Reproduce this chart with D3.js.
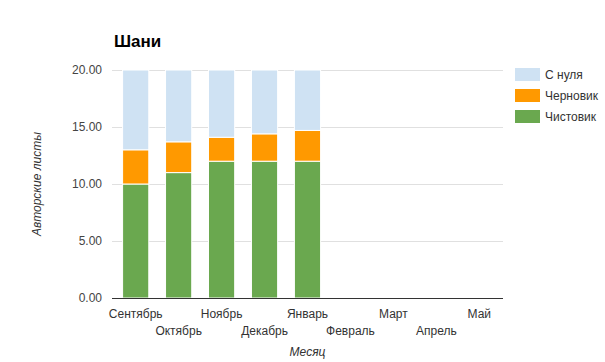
<!DOCTYPE html>
<html>
<head>
<meta charset="UTF-8">
<title>Шани</title>
<script src="https://cdn.jsdelivr.net/npm/d3@7"></script>
<style>
  body, html { margin:0; padding:0; background:#fff; }
  svg { font-family: "Liberation Sans", Arial, sans-serif; }
</style>
</head>
<body>
<div id="chart"></div>
<script>
var months = ['Сентябрь','Октябрь','Ноябрь','Декабрь','Январь','Февраль','Март','Апрель','Май'];
var series = ['Чистовик','Черновик','С нуля'];
var colors = ['#6aa84f','#ff9900','#cfe2f3'];
var clean = [10, 11, 12, 12, 12];
var draft = [3, 2.7, 2.1, 2.4, 2.7];
var scratch = [7, 6.3, 5.9, 5.6, 5.3];
var yTicks = [0, 5, 10, 15, 20];

var W = 605, H = 362;
var plotL = 112, plotR = 503, plotT = 70, plotB = 298;

var svg = d3.select('#chart').append('svg').attr('width', W).attr('height', H);

var x = d3.scaleBand().domain(months).range([plotL + 2, plotR - 2]).paddingInner(0.39).paddingOuter(0.2);
var y = d3.scaleLinear().domain([0, 20]).range([plotB, plotT]);

// rows for stacking
var rows = clean.map(function(v, i) {
  return { month: months[i], 'Чистовик': v, 'Черновик': draft[i], 'С нуля': scratch[i] };
});
var stack = d3.stack().keys(series)(rows);

// grid
svg.append('g').selectAll('line').data(yTicks.filter(function(t){ return t > 0; }))
  .enter().append('line')
  .attr('x1', plotL).attr('x2', plotR)
  .attr('y1', function(d){ return y(d) + 0.5; }).attr('y2', function(d){ return y(d) + 0.5; })
  .attr('stroke', '#e0e0e0').attr('stroke-width', 1);

// y labels
svg.append('g').selectAll('text').data(yTicks).enter().append('text')
  .attr('x', 102).attr('y', function(d){ return y(d) + 4; })
  .attr('text-anchor', 'end').attr('font-size', 12).attr('fill', '#444')
  .text(function(d){ return d3.format('.2f')(d); });

// bars
svg.append('g').selectAll('g').data(stack).enter().append('g')
  .attr('fill', function(d, i){ return colors[i]; })
  .selectAll('rect').data(function(d){ return d; }).enter().append('rect')
  .attr('x', function(d){ return x(d.data.month); })
  .attr('width', x.bandwidth())
  .attr('y', function(d){ return y(d[1]); })
  .attr('height', function(d){ return y(d[0]) - y(d[1]); })
  .attr('stroke', '#fff').attr('stroke-width', 1);

// baseline
svg.append('line').attr('x1', plotL).attr('x2', plotR)
  .attr('y1', plotB + 0.5).attr('y2', plotB + 0.5)
  .attr('stroke', '#333').attr('stroke-width', 1);

// x labels, staggered
svg.append('g').selectAll('text').data(months).enter().append('text')
  .attr('x', function(d){ return x(d) + x.bandwidth() / 2; })
  .attr('y', function(d, i){ return i % 2 === 0 ? 318 : 335; })
  .attr('text-anchor', 'middle').attr('font-size', 12).attr('fill', '#333')
  .text(function(d){ return d; });

// axis titles
svg.append('text').attr('x', (plotL + plotR) / 2).attr('y', 356)
  .attr('text-anchor', 'middle').attr('font-size', 12).attr('font-style', 'italic').attr('fill', '#333')
  .text('Месяц');
svg.append('text').attr('transform', 'translate(41,' + ((plotT + plotB) / 2) + ') rotate(-90)')
  .attr('text-anchor', 'middle').attr('font-size', 12).attr('font-style', 'italic').attr('fill', '#333')
  .text('Авторские листы');

// title
svg.append('text').attr('x', plotL + 2).attr('y', 47)
  .attr('font-size', 17).attr('font-weight', 'bold').attr('fill', '#000')
  .text('Шани');

// legend (top to bottom: С нуля, Черновик, Чистовик)
var legend = series.slice().reverse();
var lg = svg.append('g').selectAll('g').data(legend).enter().append('g')
  .attr('transform', function(d, i){ return 'translate(515,' + (68 + i * 21) + ')'; });
lg.append('rect').attr('width', 25).attr('height', 13)
  .attr('fill', function(d){ return colors[series.indexOf(d)]; });
lg.append('text').attr('x', 30).attr('y', 11).attr('font-size', 12).attr('fill', '#333')
  .text(function(d){ return d; });
</script>
</body>
</html>
